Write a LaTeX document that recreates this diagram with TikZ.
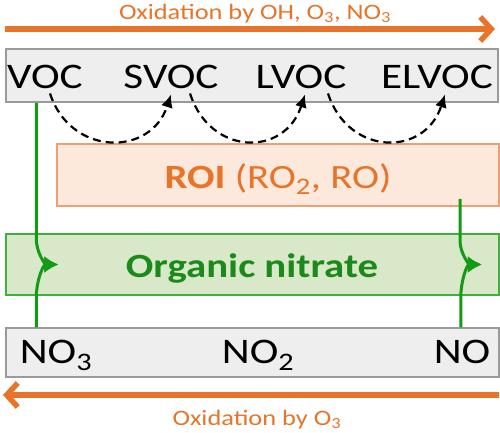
\documentclass[tikz,border=0pt]{standalone}
\usepackage{fontspec}
\setmainfont{Carlito}[FakeStretch=1.2]
\usetikzlibrary{arrows.meta,positioning}

\definecolor{oxorange}{HTML}{E8742A}
\definecolor{roiline}{HTML}{F0A070}
\definecolor{roifill}{HTML}{FCE9DC}
\definecolor{nitgreen}{HTML}{159A15}
\definecolor{nitdark}{HTML}{1B8A1B}
\definecolor{nitfill}{HTML}{D8E8C8}
\definecolor{nitline}{HTML}{3DB03D}
\definecolor{bandfill}{HTML}{EEEEEE}
\definecolor{bandline}{HTML}{9A9A9A}

\begin{document}
\begin{tikzpicture}[x=1pt,y=1pt,>=Latex]
    \tikzset{band/.style={draw=bandline,fill=bandfill,line width=1.5pt,inner sep=0pt},
             species/.style={anchor=base,inner sep=0pt,font=\fontsize{36}{40}\selectfont},
             oxtext/.style={anchor=base,inner sep=0pt,text=oxorange,font=\fontsize{22}{26}\selectfont},
             oxarrow/.style={draw=oxorange,line width=5.5pt,-{Straight Barb[length=11pt,width=24pt]}},
             stepline/.style={draw,dash pattern=on 8pt off 5pt,line width=2.2pt,-{Latex[length=13pt,width=12pt]}},
             nitro/.style={draw=nitgreen,line width=3pt,-{Latex[length=14pt,width=17pt]}}};
    \useasboundingbox (0,0) rectangle (500,-432);

    % bands
    \node[band,minimum width=492pt,minimum height=53pt] (vocbox) at (252,-75.5) {};
    \node[draw=roiline,fill=roifill,line width=1.5pt,minimum width=442pt,minimum height=62pt] (roi) at (278,-175) {};
    \node[draw=nitline,fill=nitfill,line width=1.5pt,minimum width=493pt,minimum height=61pt] (nitrate) at (252.5,-264.5) {};
    \node[band,minimum width=493pt,minimum height=49pt] (noxbox) at (252.5,-352.5) {};

    % labels
    \node[oxtext] (oxtop) at (255,-19.5) {Oxidation by OH, O\textsubscript{3}, NO\textsubscript{3}};
    \node[oxtext] (oxbot) at (257,-425) {Oxidation by O\textsubscript{3}};
    \node[species] (voc) at (45,-88) {VOC};
    \node[species] (svoc) at (171,-88) {SVOC};
    \node[species] (lvoc) at (301,-88) {LVOC};
    \node[species] (elvoc) at (437,-88) {ELVOC};
    \node[species,text=oxorange,font=\fontsize{34}{40}\selectfont] (roitext) at (278,-188) {\textbf{ROI} (RO\textsubscript{2}, RO)};
    \node[species,text=nitdark,font=\fontsize{34}{40}\selectfont\bfseries] (nittext) at (252,-277) {Organic nitrate};
    \node[species] (no3) at (56,-363) {NO\textsubscript{3}};
    \node[species] (no2) at (258,-363) {NO\textsubscript{2}};
    \node[species] (no) at (462,-363) {NO};

    \coordinate (topstart) at (5,-29);
    \coordinate (topend) at (495,-29);
    \coordinate (botstart) at (499,-395);
    \coordinate (botend) at (3,-395);
    \draw[oxarrow] (topstart) -- (topend);
    \draw[oxarrow] (botstart) -- (botend);

    % volatility steps
    \draw[stepline] ([shift={(5,-5)}]voc.south) to[out=-72,in=-108,distance=66pt] ([yshift=-6]svoc.south);
    \draw[stepline] ([shift={(19,-5)}]svoc.south) to[out=-72,in=-108,distance=66pt] ([shift={(4,-6)}]lvoc.south);
    \draw[stepline] ([shift={(27,-5)}]lvoc.south) to[out=-72,in=-108,distance=66pt] ([shift={(8,-6)}]elvoc.south);

    % nitrate formation
    \draw[nitro] ([xshift=31]vocbox.south west) -- ++(0,-136) to[out=-90,in=180] ([xshift=53]nitrate.west);
    \draw[nitro] ([xshift=31]noxbox.north west) -- ++(0,30) to[out=90,in=180] ([xshift=53]nitrate.west);
    \draw[nitro] ([shift={(182,8)}]roi.south) -- ++(0,-42) to[out=-90,in=180] ([xshift=-18]nitrate.east);
    \draw[nitro] ([xshift=-39]noxbox.north east) -- ++(0,30) to[out=90,in=180] ([xshift=-18]nitrate.east);
\end{tikzpicture}
\end{document}
